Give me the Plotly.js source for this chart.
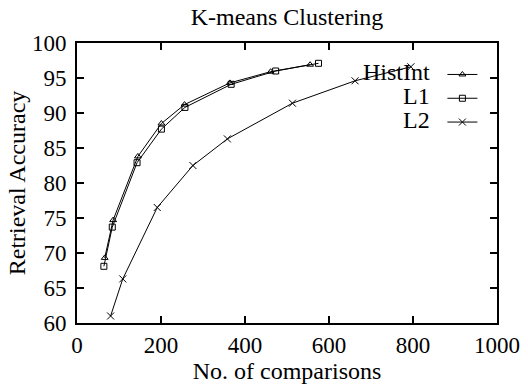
<!DOCTYPE html>
<html>
<head>
<meta charset="utf-8">
<script src="https://cdn.plot.ly/plotly-3.0.1.min.js"></script>
<style>
  html, body { margin: 0; padding: 0; background: #fff; }
  #chart { width: 528px; height: 387px; }
</style>
</head>
<body>
<div id="chart"></div>
<script>
// Number of comparisons vs. retrieval accuracy for each distance measure
const seriesNames = ["HistInt", "L1", "L2"];

const histIntX = [66, 86, 145, 201, 256, 364, 461, 555];
const histIntY = [69.3, 74.7, 83.8, 88.5, 91.2, 94.3, 95.9, 96.9];

const l1X = [64, 84, 143, 201, 257, 367, 473, 575];
const l1Y = [68.1, 73.7, 82.9, 87.7, 90.8, 94.1, 96.0, 97.1];

const l2X = [80, 109, 191, 276, 358, 513, 662, 795];
const l2Y = [61.0, 66.3, 76.5, 82.5, 86.3, 91.4, 94.6, 96.6];

const xTicks = [0, 200, 400, 600, 800, 1000];
const yTicks = [60, 65, 70, 75, 80, 85, 90, 95, 100];

const FONT = "Liberation Serif";
const symbols = ["triangle-up-open", "square-open", "x-thin-open"];
const xs = [histIntX, l1X, l2X];
const ys = [histIntY, l1Y, l2Y];

const traces = seriesNames.map((name, i) => ({
  type: "scatter",
  mode: "lines+markers",
  x: xs[i],
  y: ys[i],
  name: " ",
  line: { color: "#000", width: 1 },
  marker: {
    symbol: symbols[i],
    size: i === 2 ? 7 : 6,
    color: "#000",
    line: { color: "#000", width: 1 }
  }
}));

// gnuplot-style key: labels right-aligned to the left of the line samples
const keyRows = [0.897, 0.811, 0.725];
const annotations = seriesNames.map((name, i) => ({
  xref: "paper", yref: "paper",
  x: 0.845, y: keyRows[i],
  xanchor: "right", yanchor: "middle",
  text: name, showarrow: false,
  font: { family: FONT, size: 24, color: "#000" }
}));

const axisCommon = {
  showgrid: false,
  zeroline: false,
  showline: true,
  linecolor: "#000",
  linewidth: 2,
  mirror: "ticks",
  ticks: "inside",
  ticklen: 7,
  tickwidth: 2,
  tickcolor: "#000",
  tickfont: { family: FONT, size: 23, color: "#000" }
};

const layout = {
  width: 528,
  height: 387,
  margin: { l: 77, r: 31, t: 43, b: 64 },
  paper_bgcolor: "#fff",
  plot_bgcolor: "#fff",
  font: { family: FONT, color: "#000" },
  title: {
    text: "K-means Clustering",
    font: { family: FONT, size: 24, color: "#000" },
    x: 0.5, xref: "paper",
    y: 0.958, yref: "container", yanchor: "middle"
  },
  xaxis: Object.assign({}, axisCommon, {
    range: [0, 1000],
    tickvals: xTicks,
    ticktext: xTicks.map(String),
    title: { text: "No. of comparisons", font: { family: FONT, size: 24, color: "#000" }, standoff: 1 }
  }),
  yaxis: Object.assign({}, axisCommon, {
    range: [60, 100],
    tickvals: yTicks,
    ticktext: yTicks.map(String),
    ticklabelstandoff: 4,
    title: { text: "Retrieval Accuracy", font: { family: FONT, size: 24, color: "#000" }, standoff: 0 }
  }),
  showlegend: true,
  legend: {
    x: 0.87, xanchor: "left",
    y: 0.948, yanchor: "top",
    bgcolor: "rgba(0,0,0,0)",
    borderwidth: 0,
    font: { family: FONT, size: 16, color: "#000" },
    tracegroupgap: 0,
    itemwidth: 30
  },
  annotations: annotations
};

Plotly.newPlot("chart", traces, layout, { displayModeBar: false, staticPlot: true });
</script>
</body>
</html>
